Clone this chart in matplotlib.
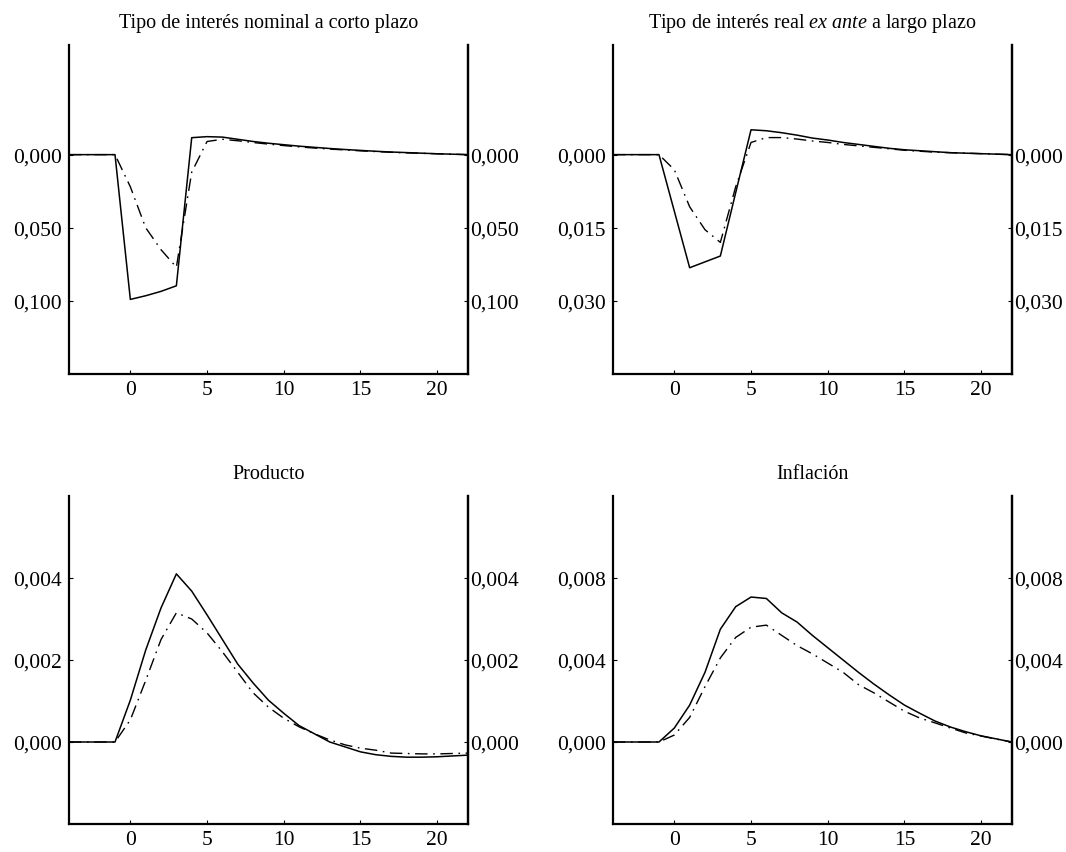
import numpy as np
import matplotlib
matplotlib.use("Agg")
import matplotlib.pyplot as plt
from matplotlib.ticker import FuncFormatter

plt.rcParams['font.family'] = ['Liberation Serif', 'DejaVu Serif']
plt.rcParams['mathtext.fontset'] = 'custom'
plt.rcParams['mathtext.rm'] = 'Liberation Serif'
plt.rcParams['mathtext.it'] = 'Liberation Serif:italic'

periods = list(range(-4, 23))

# tipo nominal a corto plazo
nominal_solid = [0, 0, 0, 0, -0.0990, -0.0965, -0.0935, -0.0897, 0.0116, 0.0123, 0.0120,
                 0.0105, 0.0090, 0.0078, 0.0068, 0.0058, 0.0050, 0.0042, 0.0035, 0.0029,
                 0.0023, 0.0018, 0.0014, 0.0010, 0.0006, 0.0003, 0.0]
nominal_dash = [0, 0, 0, 0, -0.0220, -0.0500, -0.0650, -0.0770, -0.0120, 0.0090, 0.0105,
                0.0095, 0.0083, 0.0072, 0.0062, 0.0053, 0.0045, 0.0038, 0.0032, 0.0026,
                0.0021, 0.0016, 0.0012, 0.0009, 0.0006, 0.0003, 0.0]

# tipo real ex ante a largo plazo
real_solid = [0, 0, 0, 0, -0.0116, -0.0232, -0.0220, -0.0208, -0.0078, 0.0051, 0.0049,
              0.0045, 0.0040, 0.0034, 0.0030, 0.0025, 0.0021, 0.0017, 0.0013, 0.0010,
              0.0008, 0.0006, 0.0004, 0.0003, 0.0002, 0.0001, 0.0]
real_dash = [0, 0, 0, 0, -0.0031, -0.0107, -0.0154, -0.0180, -0.0066, 0.0025, 0.0035,
             0.0035, 0.0032, 0.0028, 0.0025, 0.0021, 0.0018, 0.0015, 0.0012, 0.0009,
             0.0007, 0.0005, 0.0004, 0.0003, 0.0002, 0.0001, 0.0]

# producto
prod_solid = [0, 0, 0, 0, 0.00102, 0.00224, 0.00327, 0.00410, 0.00368, 0.00310, 0.00250,
              0.00190, 0.00144, 0.00102, 0.00070, 0.00040, 0.00020, 0.0, -0.00012,
              -0.00024, -0.00031, -0.00035, -0.00037, -0.00037, -0.00036, -0.00034, -0.00032]
prod_dash = [0, 0, 0, 0, 0.00054, 0.00150, 0.00250, 0.00315, 0.00300, 0.00266, 0.00220,
             0.00170, 0.00120, 0.00085, 0.00058, 0.00037, 0.00020, 0.00005, -0.00007,
             -0.00015, -0.00020, -0.00027, -0.00028, -0.00029, -0.00029, -0.00028, -0.00027]

# inflacion
infl_solid = [0, 0, 0, 0, 0.00068, 0.00180, 0.00340, 0.00550, 0.00660, 0.00707, 0.00700,
              0.00630, 0.00585, 0.00520, 0.00460, 0.00400, 0.00340, 0.00283, 0.00230,
              0.00180, 0.00140, 0.00102, 0.00073, 0.00050, 0.00030, 0.00015, 0.0]
infl_dash = [0, 0, 0, 0, 0.00034, 0.00120, 0.00270, 0.00410, 0.00510, 0.00560, 0.00570,
             0.00520, 0.00470, 0.00430, 0.00385, 0.00340, 0.00280, 0.00240, 0.00195,
             0.00150, 0.00117, 0.00093, 0.00068, 0.00044, 0.00029, 0.00014, 0.0]

titles = ['Tipo de interés nominal a corto plazo',
          r'Tipo de interés real $\mathit{ex\ ante}$ a largo plazo',
          'Producto', 'Inflación']
series = [(nominal_solid, nominal_dash), (real_solid, real_dash),
          (prod_solid, prod_dash), (infl_solid, infl_dash)]
yticks = [[0, -0.05, -0.10], [0, -0.015, -0.030], [0, 0.002, 0.004], [0, 0.004, 0.008]]
ylims = [(-0.15, 0.075), (-0.045, 0.0225), (-0.002, 0.006), (-0.004, 0.012)]

# posiciones de los ejes (fracciones de la figura)
positions = [[0.0647, 0.5604, 0.3742, 0.3857], [0.575, 0.5604, 0.3742, 0.3857],
             [0.0647, 0.0328, 0.3742, 0.3846], [0.575, 0.0328, 0.3742, 0.3846]]

fmt = FuncFormatter(lambda v, p: '{:.3f}'.format(abs(v)).replace('.', ','))

fig = plt.figure(figsize=(10.66, 8.53), dpi=100)
for i in range(4):
    ax = fig.add_axes(positions[i])
    solid, dash = series[i]
    ax.plot(periods, solid, color='black', lw=1.1)
    ax.plot(periods, dash, color='black', lw=1.0, dashes=(9, 4, 1.2, 4))
    ax.set_xlim(-4, 22)
    ax.set_ylim(*ylims[i])
    ax.set_xticks([0, 5, 10, 15, 20])
    ax.set_yticks(yticks[i])
    ax.yaxis.set_major_formatter(fmt)
    ax.spines['top'].set_visible(False)
    for s in ['left', 'right', 'bottom']:
        ax.spines[s].set_linewidth(1.6)
    ax.tick_params(direction='in', length=3, width=0.8, labelsize=15.5)
    ax.tick_params(axis='y', pad=5)
    ax.tick_params(axis='x', pad=4)
    # eje derecho con las mismas marcas
    sec = ax.secondary_yaxis('right')
    sec.set_yticks(yticks[i])
    sec.yaxis.set_major_formatter(fmt)
    sec.spines['right'].set_linewidth(1.6)
    sec.tick_params(direction='in', length=3, width=0.8, labelsize=15.5, pad=1.5)
    ax.set_title(titles[i], fontsize=14.5, pad=13)

fig.savefig('out.png', dpi=100)
